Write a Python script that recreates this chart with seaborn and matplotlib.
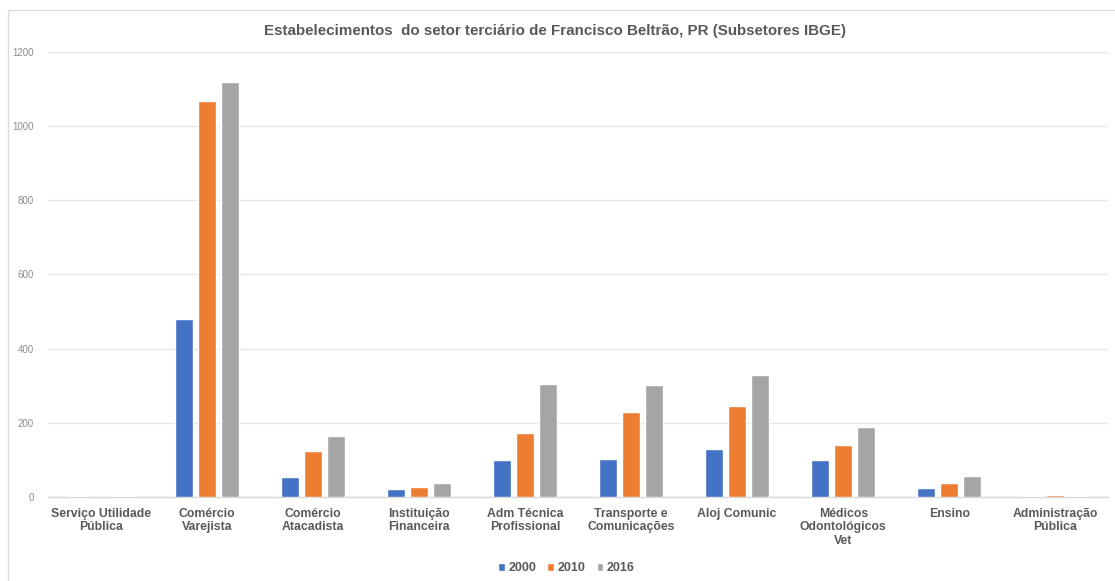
import matplotlib
matplotlib.use("Agg")
import matplotlib.pyplot as plt
from matplotlib.patches import Rectangle
import pandas as pd
import seaborn as sns

categories = [
    "Serviço Utilidade\nPública",
    "Comércio\nVarejista",
    "Comércio\nAtacadista",
    "Instituição\nFinanceira",
    "Adm Técnica\nProfissional",
    "Transporte e\nComunicações",
    "Aloj Comunic",
    "Médicos\nOdontológicos\nVet",
    "Ensino",
    "Administração\nPública",
]
years = ["2000", "2010", "2016"]
values_2000 = [4, 481, 55, 21, 100, 103, 130, 101, 23, 4]
values_2010 = [0, 1068, 125, 27, 172, 229, 245, 140, 37, 5]
values_2016 = [4, 1120, 164, 39, 305, 303, 329, 190, 57, 4]
colors = ["#4472C4", "#ED7D31", "#A5A5A5"]

df = pd.DataFrame({
    "categoria": categories * 3,
    "ano": [y for y in years for _ in categories],
    "valor": values_2000 + values_2010 + values_2016,
})

sns.set_theme(style="white")
plt.rcParams["font.family"] = ["Liberation Sans", "DejaVu Sans"]

fig = plt.figure(figsize=(11.15, 5.81), dpi=100)
ax = fig.add_axes([0.043, 0.1446, 0.951, 0.766])

sns.barplot(data=df, x="categoria", y="valor", hue="ano", order=categories,
            hue_order=years, palette=colors, width=0.65, gap=0.2,
            saturation=1, errorbar=None, ax=ax, zorder=3)

ax.set_xlim(-0.5, 9.5)
ax.set_ylim(0, 1200)
ax.set_yticks(range(0, 1201, 200))
ax.grid(axis="y", color="#e6e6e6", linewidth=1, zorder=0)
ax.grid(axis="x", visible=False)
for side in ["top", "right", "left"]:
    ax.spines[side].set_visible(False)
ax.spines["bottom"].set_color("#d9d9d9")
ax.spines["bottom"].set_linewidth(1)
ax.set_xlabel("")
ax.set_ylabel("")
ax.tick_params(axis="y", length=0, labelsize=7, labelcolor="#8c8c8c", pad=10)
ax.tick_params(axis="x", length=0, pad=8)
for lbl in ax.get_xticklabels():
    lbl.set_fontsize(8.8)
    lbl.set_fontweight("bold")
    lbl.set_color("#595959")
    lbl.set_linespacing(1.15)

ax.legend_.remove()
handles, labels = ax.get_legend_handles_labels()
leg = fig.legend(handles, labels, loc="center", bbox_to_anchor=(0.508, 0.022),
                 ncol=3, frameon=False, handlelength=0.55, handleheight=0.55,
                 handletextpad=0.25, columnspacing=0.9,
                 prop={"size": 9, "weight": "bold"})
for t in leg.get_texts():
    t.set_color("#595959")

fig.text(0.498, 0.947,
         "Estabelecimentos  do setor terciário de Francisco Beltrão, PR (Subsetores IBGE)",
         ha="center", va="center", fontsize=10.9, fontweight="bold", color="#595959")

# light outer frame of the chart area
fig.patches.append(Rectangle((8 / 1115, -0.05), 1.2, 1 - 10 / 581 + 0.05,
                             transform=fig.transFigure, fill=False,
                             edgecolor="#dcdcdc", linewidth=1))

fig.savefig("out.png", dpi=100, facecolor="white")
